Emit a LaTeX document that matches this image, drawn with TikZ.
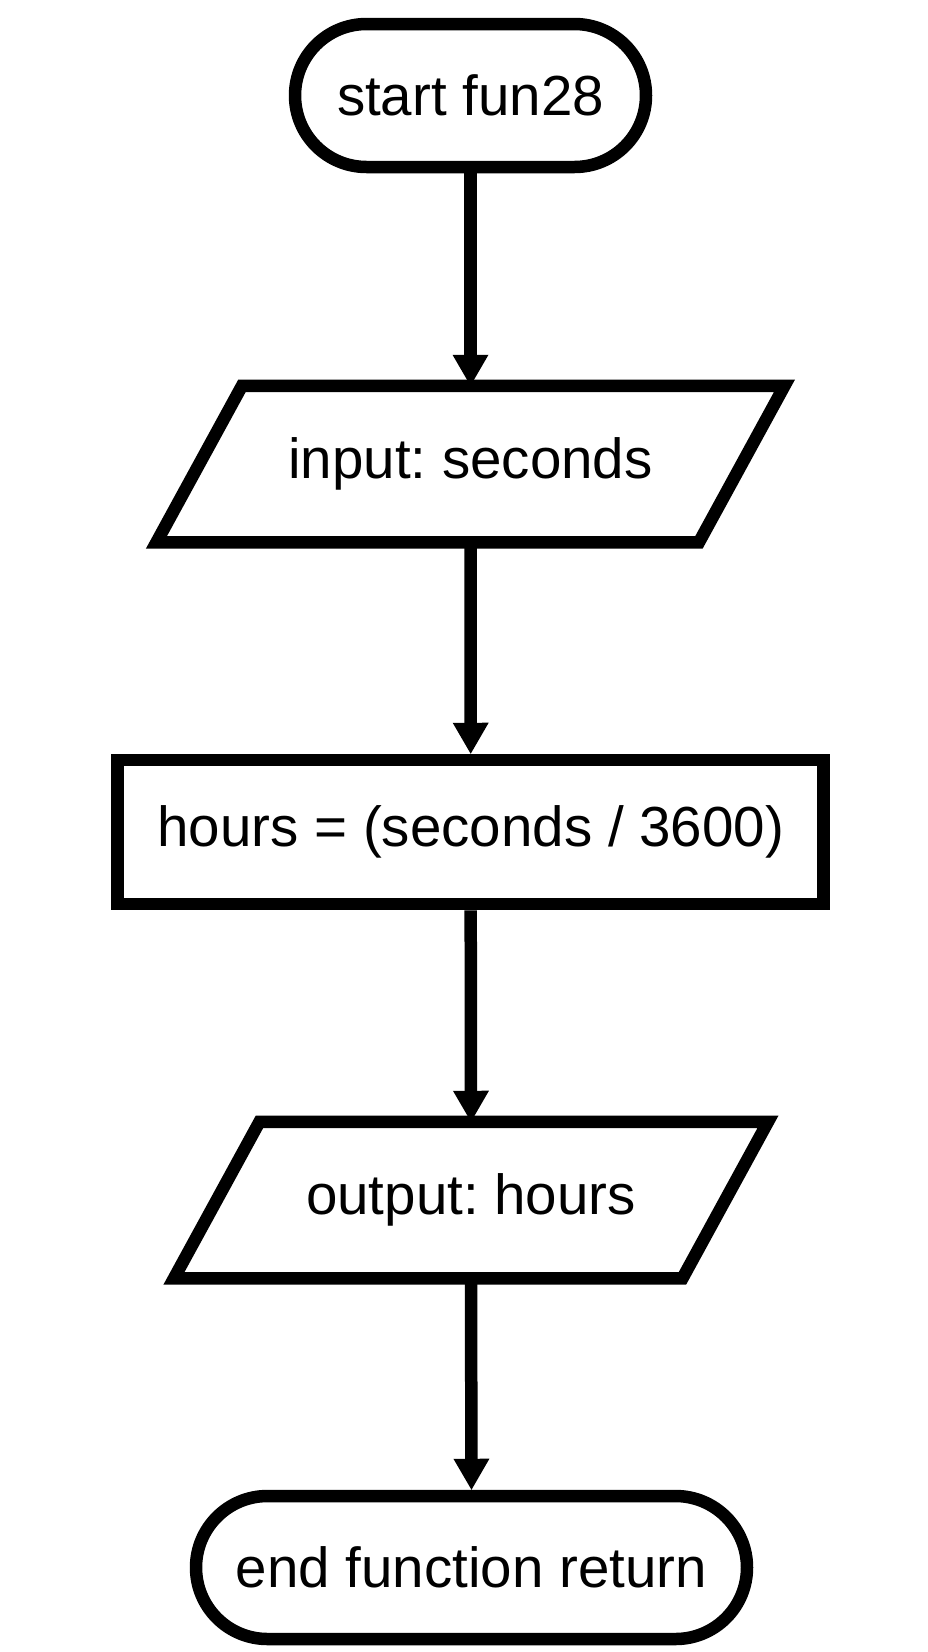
\documentclass[tikz,border=0pt]{standalone}
\usepackage{fontspec}
\setmainfont{Liberation Sans}
\usetikzlibrary{arrows.meta}
\frenchspacing
\begin{document}
\begin{tikzpicture}[x=1pt,y=-1pt,
  every node/.style={font=\fontsize{56.5}{60}\selectfont, text=black},
  term/.style={draw, line width=12.5pt, rounded corners=71.5pt, minimum height=143pt, outer sep=6.25pt, inner sep=0pt},
  proc/.style={draw, line width=12.5pt, minimum height=144pt, outer sep=6.25pt, inner sep=0pt},
  iobox/.style={minimum height=144pt, outer sep=6.25pt, inner sep=0pt},
  para/.style={draw, line width=12.5pt, line join=miter},
  flow/.style={line width=12.5pt, -{Triangle[width=36pt,length=31pt,line width=0pt]}}]
\useasboundingbox (0,0) rectangle (928,1652);
\fill[white] (0,0) rectangle (928,1652);

\node[term, minimum width=351pt] (start) at (470.5,95.5) {start fun28};
\node[iobox, minimum width=530pt] (in) at (470.5,464) {input: seconds};
\draw[para] ([xshift=42.75pt]in.north west) -- ([xshift=42.75pt]in.north east)
  -- ([xshift=-42.75pt]in.south east) -- ([xshift=-42.75pt]in.south west) -- cycle;
\node[proc, minimum width=706pt] (calc) at (470.7,832) {hours = (seconds / 3600)};
\node[iobox, minimum width=496pt] (out) at (471,1200) {output: hours};
\draw[para] ([xshift=42.75pt]out.north west) -- ([xshift=42.75pt]out.north east)
  -- ([xshift=-42.75pt]out.south east) -- ([xshift=-42.75pt]out.south west) -- cycle;
\node[term, minimum width=551pt] (end) at (471.5,1567.5) {end function return};

\draw[flow] (start.south) -- (in.north);
\draw[flow] (in.south) -- (calc.north);
\draw[flow] (calc.south) -- (out.north);
\draw[flow] (out.south) -- (end.north);
\end{tikzpicture}
\end{document}
